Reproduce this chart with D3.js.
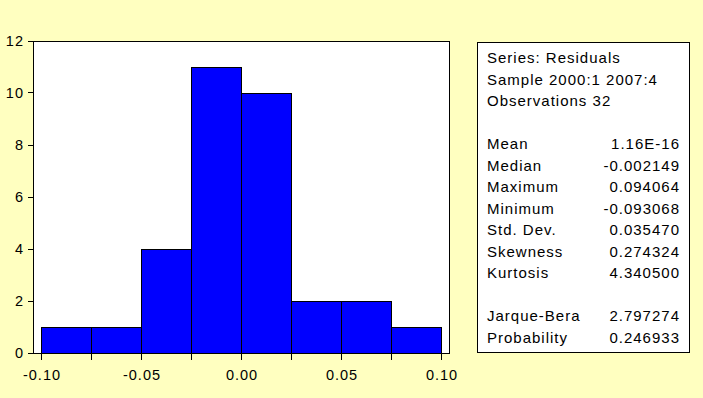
<!DOCTYPE html>
<html><head><meta charset="utf-8">
<script src="https://cdn.jsdelivr.net/npm/d3@7"></script>
<style>body{margin:0;background:#FFFFC0;}svg{display:block;}</style>
</head><body>
<script>
// Histogram bins (edges) and counts
const binStarts = [-0.100, -0.075, -0.050, -0.025, 0.000, 0.025, 0.050, 0.075];
const binWidth = 0.025;
const counts = [1, 1, 4, 11, 10, 2, 2, 1];
const yTicks = [0, 2, 4, 6, 8, 10, 12];
const xTickLabels = [-0.10, -0.05, 0.00, 0.05, 0.10];
const xMinorTicks = [-0.10, -0.075, -0.05, -0.025, 0.00, 0.025, 0.05, 0.075, 0.10];
const statLabels = ["Series: Residuals", "Sample 2000:1 2007:4", "Observations 32", "",
  "Mean", "Median", "Maximum", "Minimum", "Std. Dev.", "Skewness", "Kurtosis", "",
  "Jarque-Bera", "Probability"];
const statValues = ["", "", "", "", "1.16E-16", "-0.002149", "0.094064", "-0.093068",
  "0.035470", "0.274324", "4.340500", "", "2.797274", "0.246933"];

const W = 703, H = 398;
const svg = d3.select("body").append("svg").attr("width", W).attr("height", H);
svg.append("rect").attr("width", W).attr("height", H).attr("fill", "#FFFFC0");

const plot = {l: 33.5, t: 41.5, r: 449.5, b: 353.5};
const x = d3.scaleLinear().domain([-0.1, 0.1]).range([41.5, 441.5]);
const y = d3.scaleLinear().domain([0, 12]).range([plot.b, plot.t]);

const font = "'Liberation Sans', Arial, sans-serif";
const fmt = d => d3.format(".2f")(d).replace("\u2212", "-");

svg.append("rect").attr("x", plot.l).attr("y", plot.t)
  .attr("width", plot.r - plot.l).attr("height", plot.b - plot.t)
  .attr("fill", "#fff").attr("stroke", "#000").attr("stroke-width", 1);

svg.append("g").selectAll("rect").data(counts).join("rect")
  .attr("x", (d, i) => x(binStarts[i]))
  .attr("y", d => y(d))
  .attr("width", (d, i) => x(binStarts[i] + binWidth) - x(binStarts[i]))
  .attr("height", d => y(0) - y(d))
  .attr("fill", "#0000FF").attr("stroke", "#000").attr("stroke-width", 1);

// frame again on top
svg.append("rect").attr("x", plot.l).attr("y", plot.t)
  .attr("width", plot.r - plot.l).attr("height", plot.b - plot.t)
  .attr("fill", "none").attr("stroke", "#000").attr("stroke-width", 1);

// Y axis ticks
const yg = svg.append("g");
yg.selectAll("line").data(yTicks).join("line")
  .attr("x1", 28).attr("x2", plot.l).attr("y1", d => Math.round(y(d)) - 0.5).attr("y2", d => Math.round(y(d)) - 0.5)
  .attr("stroke", "#000");
yg.selectAll("text").data(yTicks).join("text")
  .attr("x", 24).attr("y", d => y(d) - 1).attr("text-anchor", "end").attr("dominant-baseline", "central")
  .attr("font-family", font).attr("font-size", "14.5px").attr("letter-spacing", "1px")
  .text(d => d);

// X axis ticks
const xg = svg.append("g");
xg.selectAll("line").data(xMinorTicks).join("line")
  .attr("x1", d => x(d)).attr("x2", d => x(d)).attr("y1", plot.b).attr("y2", 360)
  .attr("stroke", "#000");
xg.selectAll("text").data(xTickLabels).join("text")
  .attr("x", d => x(d) + 0.5).attr("y", 375).attr("text-anchor", "middle").attr("dominant-baseline", "central")
  .attr("font-family", font).attr("font-size", "14.5px").attr("letter-spacing", "1px")
  .text(fmt);

// Stats box
svg.append("rect").attr("x", 477.5).attr("y", 42.5).attr("width", 212).attr("height", 310)
  .attr("fill", "#fff").attr("stroke", "#000");
const sg = svg.append("g").attr("font-family", font).attr("font-size", "15px").attr("letter-spacing", "1px");
sg.selectAll("text.l").data(statLabels).join("text").attr("class", "l")
  .attr("x", 487).attr("y", (d, i) => 57.5 + 21.5 * i).attr("dominant-baseline", "central")
  .text(d => d);
sg.selectAll("text.v").data(statValues).join("text").attr("class", "v")
  .attr("x", 680).attr("y", (d, i) => 57.5 + 21.5 * i).attr("dominant-baseline", "central")
  .attr("text-anchor", "end")
  .text(d => d);
</script>
</body></html>
